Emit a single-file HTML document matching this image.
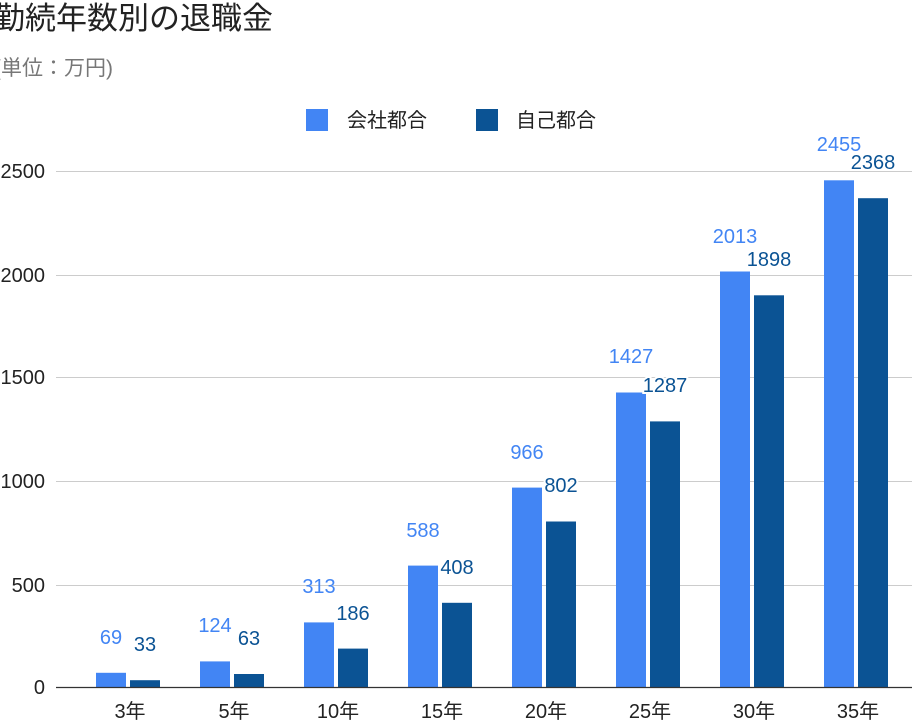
<!DOCTYPE html>
<html><head><meta charset="utf-8"><style>
body{margin:0;background:#fff;}
svg{display:block;font-family:"Liberation Sans","Noto Sans CJK JP",sans-serif;}
</style></head><body>
<svg width="912" height="721" xmlns="http://www.w3.org/2000/svg">
<text x="-6" y="29" font-size="31" fill="#222">勤続年数別の退職金</text>
<text x="-6" y="75" font-size="21" fill="#777">(単位：万円)</text>
<rect x="306" y="109" width="22" height="22" fill="#4285f4"/>
<text x="347" y="127" font-size="20" fill="#222">会社都合</text>
<rect x="476" y="109" width="22" height="22" fill="#0b5394"/>
<text x="516" y="127" font-size="20" fill="#222">自己都合</text>
<g stroke="#ccc" stroke-width="1">
<line x1="56" x2="912" y1="171.5" y2="171.5"/>
<line x1="56" x2="912" y1="275.5" y2="275.5"/>
<line x1="56" x2="912" y1="377.5" y2="377.5"/>
<line x1="56" x2="912" y1="481.5" y2="481.5"/>
<line x1="56" x2="912" y1="585.5" y2="585.5"/>
</g>
<g font-size="20" fill="#222" text-anchor="end">
<text x="45" y="178">2500</text>
<text x="45" y="282">2000</text>
<text x="45" y="384">1500</text>
<text x="45" y="488">1000</text>
<text x="45" y="592">500</text>
<text x="45" y="694">0</text>
</g>
<g fill="#4285f4">
<rect x="96" y="672.8" width="30" height="14.2"/>
<rect x="200" y="661.4" width="30" height="25.6"/>
<rect x="304" y="622.4" width="30" height="64.6"/>
<rect x="408" y="565.6" width="30" height="121.4"/>
<rect x="512" y="487.6" width="30" height="199.4"/>
<rect x="616" y="392.5" width="30" height="294.5"/>
<rect x="720" y="271.5" width="30" height="415.5"/>
<rect x="824" y="180.3" width="30" height="506.7"/>
</g>
<g fill="#0b5394">
<rect x="130" y="680.2" width="30" height="6.8"/>
<rect x="234" y="674" width="30" height="13"/>
<rect x="338" y="648.6" width="30" height="38.4"/>
<rect x="442" y="602.8" width="30" height="84.2"/>
<rect x="546" y="521.5" width="30" height="165.5"/>
<rect x="650" y="421.4" width="30" height="265.6"/>
<rect x="754" y="295.3" width="30" height="391.7"/>
<rect x="858" y="198.2" width="30" height="488.8"/>
</g>
<line x1="56" x2="912" y1="687.5" y2="687.5" stroke="#333" stroke-width="1.2"/>
<g font-size="20" fill="#4285f4" text-anchor="middle">
<text x="111" y="644">69</text>
<text x="215" y="632">124</text>
<text x="319" y="593">313</text>
<text x="423" y="537">588</text>
<text x="527" y="459">966</text>
<text x="631" y="363">1427</text>
<text x="735" y="243">2013</text>
<text x="839" y="151">2455</text>
</g>
<g font-size="20" fill="#0b5394" text-anchor="middle" stroke="#fff" stroke-width="4" paint-order="stroke">
<text x="145" y="651">33</text>
<text x="249" y="645">63</text>
<text x="353" y="620">186</text>
<text x="457" y="574">408</text>
<text x="561" y="492">802</text>
<text x="665" y="392">1287</text>
<text x="769" y="266">1898</text>
<text x="873" y="169">2368</text>
</g>
<g font-size="20" fill="#222" text-anchor="middle">
<text x="130" y="718">3年</text>
<text x="234" y="718">5年</text>
<text x="338" y="718">10年</text>
<text x="442" y="718">15年</text>
<text x="546" y="718">20年</text>
<text x="650" y="718">25年</text>
<text x="754" y="718">30年</text>
<text x="858" y="718">35年</text>
</g>
</svg>
</body></html>
